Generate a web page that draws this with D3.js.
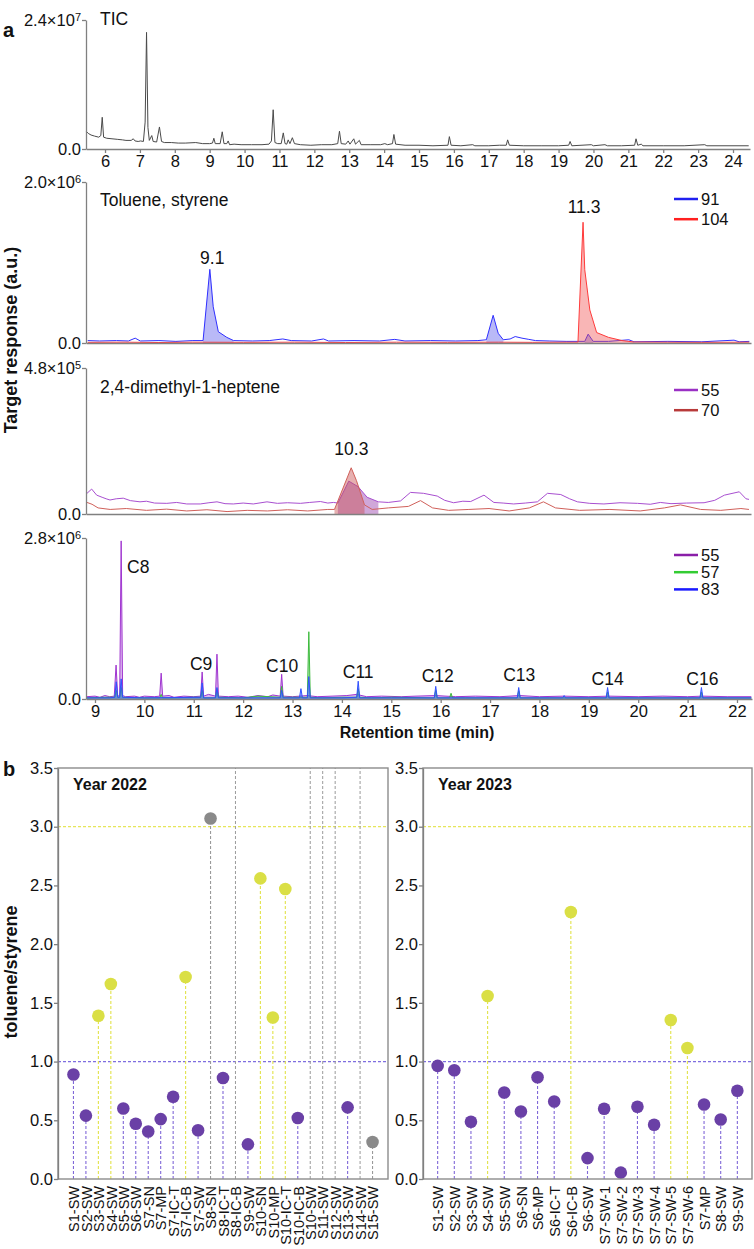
<!DOCTYPE html>
<html>
  <head>
    <meta charset="utf-8">
    <title>Toluene/styrene ratio</title>
    <script src="https://cdn.jsdelivr.net/npm/d3@7"></script>
    <style>
      body { margin: 0; background: #fff; }
      svg { display: block; font-family: "Liberation Sans", Arial, sans-serif; }
      .tick text { font-size: 16.5px; fill: #111; }
      .domain, .tick line { stroke: #808080; stroke-width: 1.3px; }
      .title { font-size: 17.5px; fill: #111; }
      .legend { font-size: 16.5px; fill: #111; }
      .bold { font-weight: bold; fill: #111; }
    </style>
  </head>
  <body>
    <svg id="chart" width="754" height="1249"></svg>
    <script>
      // ---- panel a: chromatograms [time (min), response in units of the axis exponent] ----
      ticTrace = [[5.46,0.33],[5.52,0.29],[5.6,0.26],[5.7,0.24],[5.82,0.22],[5.88,0.25],[5.92,0.59],[5.96,0.22],[6.05,0.2],[6.2,0.19],[6.35,0.18],[6.5,0.17],[6.6,0.16],[6.75,0.16],[6.81,0.19],[6.86,0.15],[6.95,0.14],[7.02,0.15],[7.1,0.14],[7.15,0.5],[7.19,2.17],[7.23,0.4],[7.27,0.16],[7.34,0.25],[7.38,0.14],[7.48,0.13],[7.56,0.41],[7.62,0.14],[7.7,0.12],[7.9,0.12],[8.1,0.11],[8.3,0.11],[8.6,0.12],[8.8,0.1],[9.0,0.1],[9.08,0.11],[9.12,0.2],[9.16,0.1],[9.3,0.1],[9.36,0.32],[9.41,0.1],[9.49,0.1],[9.53,0.15],[9.57,0.08],[9.7,0.09],[9.9,0.08],[10.2,0.08],[10.5,0.08],[10.7,0.09],[10.77,0.15],[10.82,0.73],[10.87,0.12],[10.95,0.1],[11.05,0.1],[11.11,0.3],[11.16,0.1],[11.21,0.09],[11.25,0.17],[11.3,0.1],[11.37,0.21],[11.43,0.1],[11.6,0.08],[11.9,0.07],[12.2,0.08],[12.5,0.08],[12.67,0.1],[12.72,0.33],[12.77,0.1],[12.9,0.09],[12.97,0.15],[13.02,0.09],[13.13,0.19],[13.18,0.09],[13.29,0.16],[13.34,0.08],[13.6,0.08],[13.9,0.08],[14.02,0.1],[14.1,0.08],[14.24,0.1],[14.28,0.27],[14.33,0.09],[14.6,0.07],[15.0,0.07],[15.4,0.06],[15.83,0.07],[15.87,0.23],[15.92,0.07],[16.2,0.06],[16.54,0.08],[16.6,0.06],[17.0,0.06],[17.3,0.07],[17.5,0.07],[17.54,0.17],[17.59,0.07],[18.0,0.06],[18.5,0.06],[19.0,0.06],[19.29,0.07],[19.33,0.14],[19.38,0.06],[19.94,0.08],[20.0,0.06],[20.33,0.08],[20.4,0.06],[20.8,0.06],[21.18,0.07],[21.22,0.19],[21.27,0.07],[21.37,0.09],[21.42,0.06],[22.0,0.06],[22.6,0.06],[23.19,0.08],[23.25,0.06],[24.0,0.06],[24.45,0.06]];
      toluene91 = [[8.38,0.03],[8.45,0.025],[8.55,0.03],[8.62,0.025],[8.66,0.06],[8.69,0.025],[8.8,0.03],[8.9,0.02],[9.0,0.03],[9.06,0.03],[9.1,0.915],[9.12,0.45],[9.15,0.14],[9.2,0.07],[9.24,0.03],[9.35,0.025],[9.45,0.03],[9.53,0.05],[9.58,0.03],[9.7,0.025],[9.77,0.05],[9.8,0.025],[9.95,0.03],[10.1,0.025],[10.19,0.045],[10.25,0.025],[10.4,0.03],[10.55,0.025],[10.68,0.03],[10.73,0.04],[10.77,0.344],[10.8,0.12],[10.83,0.04],[10.87,0.05],[10.9,0.08],[10.94,0.06],[10.98,0.045],[11.02,0.03],[11.1,0.025],[11.2,0.02],[11.31,0.02],[11.33,0.11],[11.36,0.02],[11.45,0.02],[11.57,0.04],[11.6,0.015],[11.8,0.02],[12.0,0.015],[12.19,0.035],[12.22,0.015],[12.28,0.02]];
      styrene104 = [[8.38,0.008],[8.6,0.01],[8.8,0.006],[9.0,0.01],[9.3,0.008],[9.6,0.01],[9.9,0.006],[10.2,0.01],[10.5,0.008],[10.8,0.01],[11.0,0.008],[11.2,0.01],[11.27,0.01],[11.3,1.5],[11.31,0.91],[11.34,0.41],[11.38,0.13],[11.45,0.07],[11.53,0.03],[11.6,0.012],[11.8,0.01],[12.0,0.008],[12.28,0.01]];
      heptene55 = [[9.005,0.68],[9.028,0.82],[9.053,0.62],[9.08,0.55],[9.1,0.5],[9.119,0.46],[9.15,0.5],[9.185,0.52],[9.22,0.44],[9.268,0.4],[9.3,0.42],[9.34,0.36],[9.401,0.35],[9.45,0.38],[9.5,0.33],[9.567,0.33],[9.61,0.37],[9.65,0.4],[9.69,0.34],[9.731,0.33],[9.78,0.36],[9.83,0.33],[9.898,0.4],[9.95,0.35],[10.0,0.37],[10.064,0.35],[10.11,0.38],[10.163,0.41],[10.2,0.36],[10.228,0.38],[10.25,0.36],[10.304,1.08],[10.35,0.9],[10.395,0.55],[10.451,0.4],[10.5,0.38],[10.561,0.43],[10.61,0.71],[10.675,0.68],[10.743,0.59],[10.78,0.45],[10.824,0.37],[10.87,0.42],[10.909,0.41],[10.975,0.62],[11.024,0.38],[11.07,0.36],[11.122,0.33],[11.18,0.36],[11.24,0.4],[11.29,0.68],[11.356,0.64],[11.4,0.5],[11.439,0.4],[11.5,0.35],[11.57,0.33],[11.65,0.37],[11.737,0.35],[11.8,0.32],[11.85,0.38],[11.903,0.34],[11.98,0.36],[12.067,0.37],[12.12,0.45],[12.168,0.62],[12.242,0.73],[12.275,0.5],[12.29,0.48]];
      heptene70 = [[9.005,0.38],[9.03,0.32],[9.06,0.2],[9.12,0.15],[9.2,0.18],[9.3,0.12],[9.4,0.16],[9.5,0.1],[9.6,0.14],[9.7,0.08],[9.8,0.12],[9.9,0.1],[10.0,0.14],[10.1,0.1],[10.2,0.15],[10.233,0.15],[10.316,1.52],[10.342,1.1],[10.382,0.3],[10.42,0.15],[10.5,0.2],[10.6,0.25],[10.66,0.44],[10.72,0.2],[10.8,0.12],[10.9,0.15],[11.0,0.18],[11.1,0.1],[11.2,0.2],[11.27,0.4],[11.33,0.2],[11.45,0.12],[11.6,0.15],[11.75,0.1],[11.87,0.2],[11.95,0.3],[12.05,0.15],[12.15,0.12],[12.25,0.18],[12.29,0.15]];
      alkane55 = [[8.83,0.04],[9.0,0.05],[9.1,0.03],[9.2,0.06],[9.3,0.04],[9.39,0.05],[9.427,0.59],[9.46,0.05],[9.5,0.06],[9.53,2.75],[9.56,0.06],[9.62,0.04],[9.8,0.05],[9.9,0.03],[10.0,0.05],[10.2,0.04],[10.31,0.05],[10.34,0.45],[10.37,0.05],[10.5,0.06],[10.6,0.03],[10.8,0.05],[11.0,0.04],[11.14,0.05],[11.17,0.47],[11.2,0.05],[11.3,0.08],[11.44,0.05],[11.47,0.78],[11.5,0.05],[11.7,0.04],[11.9,0.05],[12.1,0.03],[12.3,0.06],[12.5,0.04],[12.6,0.07],[12.75,0.05],[12.78,0.43],[12.81,0.05],[13.0,0.04],[13.3,0.06],[13.5,0.04],[13.8,0.05],[14.1,0.06],[14.3,0.08],[14.5,0.04],[14.8,0.05],[15.2,0.04],[15.5,0.05],[15.9,0.06],[16.3,0.04],[16.7,0.05],[17.2,0.04],[17.6,0.06],[18.0,0.04],[18.5,0.05],[19.0,0.04],[19.4,0.05],[20.0,0.04],[20.5,0.05],[21.0,0.04],[21.3,0.05],[21.8,0.04],[22.29,0.04]];
      alkane57 = [[8.83,0.02],[9.2,0.03],[9.4,0.03],[9.43,0.15],[9.46,0.03],[9.5,0.03],[9.53,0.2],[9.56,0.03],[10.0,0.02],[10.31,0.02],[10.34,0.08],[10.37,0.02],[10.5,0.02],[11.0,0.03],[11.14,0.03],[11.17,0.15],[11.2,0.02],[11.44,0.02],[11.47,0.18],[11.5,0.03],[12.0,0.02],[12.3,0.05],[12.75,0.03],[12.78,0.22],[12.81,0.03],[13.2,0.03],[13.3,0.03],[13.33,1.17],[13.36,0.03],[13.6,0.02],[14.0,0.03],[14.3,0.03],[14.33,0.18],[14.36,0.03],[14.6,0.02],[15.0,0.03],[15.87,0.02],[15.9,0.15],[15.93,0.02],[16.18,0.02],[16.21,0.1],[16.24,0.02],[17.0,0.02],[17.55,0.02],[17.58,0.14],[17.61,0.02],[18.5,0.02],[19.35,0.02],[19.38,0.12],[19.41,0.02],[20.0,0.02],[21.25,0.02],[21.28,0.12],[21.31,0.02],[21.5,0.02],[22.29,0.02]];
      alkane83 = [[8.83,0.02],[9.3,0.02],[9.4,0.03],[9.43,0.3],[9.46,0.03],[9.5,0.03],[9.53,0.35],[9.56,0.03],[10.0,0.02],[11.14,0.03],[11.17,0.28],[11.2,0.02],[11.44,0.02],[11.47,0.2],[11.5,0.02],[12.0,0.02],[12.75,0.02],[12.78,0.15],[12.81,0.02],[13.14,0.02],[13.17,0.18],[13.2,0.02],[13.3,0.02],[13.33,0.39],[13.36,0.02],[14.0,0.02],[14.3,0.03],[14.33,0.31],[14.36,0.02],[15.0,0.02],[15.87,0.02],[15.9,0.22],[15.93,0.02],[16.5,0.02],[17.55,0.02],[17.58,0.2],[17.61,0.02],[18.2,0.02],[18.47,0.02],[18.5,0.06],[18.53,0.02],[19.35,0.02],[19.38,0.2],[19.41,0.02],[20.5,0.02],[21.25,0.02],[21.28,0.2],[21.31,0.02],[22.29,0.02]];
      // peak annotations [text, time, response]
      tolueneNotes = [["9.1", 9.114, 0.98], ["11.3", 11.306, 1.62]];
      hepteneNotes = [["10.3", 10.317, 1.94]];
      alkaneNotes = [["C9", 11.15, 0.5], ["C10", 12.79, 0.475], ["C11", 14.33, 0.365], ["C12", 15.94, 0.3], ["C13", 17.59, 0.31], ["C14", 19.38, 0.24], ["C16", 21.3, 0.24]];

      // ---- panel b: toluene/styrene ratios (null = not determined) ----
      samples2022 = ["S1-SW","S2-SW","S3-SW","S4-SW","S5-SW","S6-SW","S7-SN","S7-MP","S7-IC-T","S7-IC-B","S7-SW","S8-SN","S8-IC-T","S8-IC-B","S9-SW","S10-SN","S10-MP","S10-IC-T","S10-IC-B","S10-SW","S11-SW","S12-SW","S13-SW","S14-SW","S15-SW"];
      ratio2022 = [0.89, 0.54, 1.39, 1.66, 0.6, 0.47, 0.405, 0.51, 0.7, 1.72, 0.415, 3.07, 0.86, null, 0.295, 2.56, 1.375, 2.47, 0.52, null, null, null, 0.61, null, 0.315];
      grey2022 = ["S8-SN", "S15-SW"];
      samples2023 = ["S1-SW","S2-SW","S3-SW","S4-SW","S5-SW","S6-SN","S6-MP","S6-IC-T","S6-IC-B","S6-SW","S7-SW-1","S7-SW-2","S7-SW-3","S7-SW-4","S7-SW-5","S7-SW-6","S7-MP","S8-SW","S9-SW"];
      ratio2023 = [0.963, 0.926, 0.487, 1.558, 0.737, 0.575, 0.867, 0.66, 2.274, 0.178, 0.598, 0.054, 0.615, 0.462, 1.354, 1.116, 0.635, 0.507, 0.751];
      grey2023 = [];
      ratioTicks = [0, 0.5, 1, 1.5, 2, 2.5, 3, 3.5];
      thresholds = [1, 3];

      svg = d3.select("#chart");
      left = 86;

      // panel a layout
      panelsA = [
        { top: 20, bottom: 149, right: 750, x: [5.455, 24.487], yMax: 2.4, mant: "2.4", exp: "7", title: "TIC", titleY: 25, ticks: d3.range(6, 25),
          series: [{ data: ticTrace, line: "#4a4a4a" }] },
        { top: 182, bottom: 343, right: 751, x: [8.37, 12.29], yMax: 2.0, mant: "2.0", exp: "6", title: "Toluene, styrene", titleY: 206, legendY: 199, notes: tolueneNotes,
          series: [
            { data: toluene91, name: "91", line: "#2f2fff", key: "#2020f0", fill: "rgba(70,70,235,0.38)", ranges: [[9.05, 9.25], [10.72, 10.84], [11.3, 11.37]] },
            { data: styrene104, name: "104", line: "#ff3b3b", key: "#ff2020", fill: "rgba(240,80,80,0.42)", ranges: [[11.26, 11.62]] }] },
        { top: 368, bottom: 514, right: 751, x: [9.0, 12.3], yMax: 4.8, mant: "4.8", exp: "5", title: "2,4-dimethyl-1-heptene", titleY: 393, legendY: 390, notes: hepteneNotes,
          series: [
            { data: heptene55, name: "55", line: "#a84fd0", key: "#9a30c4", fill: "rgba(150,60,170,0.45)", ranges: [[10.24, 10.46]] },
            { data: heptene70, name: "70", line: "#d0605a", key: "#b83a3a", fill: "rgba(200,80,80,0.45)", ranges: [[10.23, 10.39]] }] },
        { top: 538, bottom: 699, right: 752, x: [8.818, 22.304], yMax: 2.8, mant: "2.8", exp: "6", legendY: 555, notes: alkaneNotes, ticks: d3.range(9, 23),
          series: [
            { data: alkane55, name: "55", line: "#a035d0", key: "#8a1fa8", fill: "rgba(170,80,215,0.4)", ranges: [[8.8, 22.3]] },
            { data: alkane57, name: "57", line: "#3dbb3d", key: "#33cc33", fill: "rgba(60,190,60,0.4)", ranges: [[8.8, 22.3]] },
            { data: alkane83, name: "83", line: "#3050ff", key: "#1a1aff", fill: "rgba(40,90,255,0.45)", ranges: [[8.8, 22.3]] }] }
      ];

      panelsA.forEach(function(p) {
        x = d3.scaleLinear().domain(p.x).range([left, p.right]);
        y = d3.scaleLinear().domain([0, p.yMax]).range([p.bottom, p.top]);
        g = svg.append("g");
        area = d3.area().x(function(d) { return x(d[0]); }).y0(y(0)).y1(function(d) { return y(d[1]); });
        line = d3.line().x(function(d) { return x(d[0]); }).y(function(d) { return y(d[1]); });
        p.series.forEach(function(s) {
          (s.ranges || []).forEach(function(r) {
            g.append("path")
              .datum(s.data.filter(function(d) { return d[0] >= r[0] && d[0] <= r[1]; }))
              .attr("fill", s.fill)
              .attr("d", area);
          });
          g.append("path")
            .datum(s.data)
            .attr("fill", "none")
            .attr("stroke", s.line)
            .attr("stroke-width", 1)
            .attr("d", line);
        });
        // axes
        yAxisGroup = g.append("g")
          .attr("transform", "translate(" + left + ",0)")
          .call(d3.axisLeft(y).tickValues([0, p.yMax]).tickSize(4).tickPadding(1).tickSizeOuter(0));
        yAxisGroup.selectAll(".tick text").each(function(d) {
          t = d3.select(this).text("");
          if (d === 0) { t.text("0.0"); return; }
          t.append("tspan").text(p.mant + "×10");
          t.append("tspan").attr("dy", "-0.45em").style("font-size", "11px").text(p.exp);
        });
        xAxisGroup = g.append("g")
          .attr("transform", "translate(0," + p.bottom + ")")
          .call(d3.axisBottom(x).tickValues(p.ticks || []).tickSize(4).tickPadding(2).tickSizeOuter(0).tickFormat(d3.format("d")));
        if (p.title) {
          g.append("text").attr("class", "title").attr("x", 100).attr("y", p.titleY).text(p.title);
        }
        // legend
        if (p.legendY) {
          p.series.forEach(function(s, i) {
            ly = p.legendY + i * 17.2 + (p.series.length > 2 ? 0 : i * 3);
            g.append("line").attr("x1", 674).attr("x2", 698).attr("y1", ly).attr("y2", ly)
              .attr("stroke", s.key).attr("stroke-width", 2.5);
            g.append("text").attr("class", "legend").attr("x", 701).attr("y", ly + 6).text(s.name);
          });
        }
        (p.notes || []).forEach(function(n) {
          g.append("text").attr("class", "title").attr("text-anchor", "middle")
            .attr("x", x(n[1])).attr("y", y(n[2])).text(n[0]);
        });
        if (p.ticks && p.top > 500) {
          g.append("text").attr("class", "title").attr("x", x(9.65)).attr("y", y(2.19)).text("C8");
        }
      });

      svg.append("text").attr("class", "bold").style("font-size", "16px")
        .attr("x", 417).attr("y", 738).attr("text-anchor", "middle").text("Retention time (min)");
      svg.append("text").attr("class", "bold").style("font-size", "18px")
        .attr("transform", "translate(17,340) rotate(-90)").attr("text-anchor", "middle").text("Target response (a.u.)");
      svg.append("text").attr("class", "bold").style("font-size", "20px").attr("x", 3).attr("y", 37).text("a");
      svg.append("text").attr("class", "bold").style("font-size", "20px").attr("x", 3).attr("y", 776).text("b");

      // ---- panel b ----
      yR = d3.scaleLinear().domain([0, 3.5]).range([1179, 768]);
      colours = { purple: "#6a40a6", yellow: "#dadf45", grey: "#8a8a8a" };
      stems = { purple: "#8068d8", yellow: "#e2e34a", grey: "#9a9a9a" };
      yearPanels = [
        { x0: 58, x1: 388, pad: 1.24, samples: samples2022, values: ratio2022, grey: grey2022, title: "Year 2022" },
        { x0: 423, x1: 752, pad: 0.88, samples: samples2023, values: ratio2023, grey: grey2023, title: "Year 2023" }
      ];
      yearPanels.forEach(function(p) {
        xR = d3.scalePoint().domain(p.samples).range([p.x0, p.x1]).padding(p.pad);
        g = svg.append("g");
        rows = p.samples.map(function(s, i) {
          v = p.values[i];
          kind = p.grey.indexOf(s) >= 0 ? "grey" : (v >= 1 ? "yellow" : "purple");
          return { sample: s, value: v, kind: kind };
        });
        // threshold lines
        g.selectAll(".threshold")
          .data(thresholds)
          .enter().append("line")
            .attr("x1", p.x0).attr("x2", p.x1)
            .attr("y1", function(d) { return yR(d); }).attr("y2", function(d) { return yR(d); })
            .attr("stroke", function(d) { return d === 1 ? "#7f6ee0" : "#e6e65a"; })
            .attr("stroke-width", 1.2)
            .attr("stroke-dasharray", "3,2");
        // missing samples
        g.selectAll(".missing")
          .data(rows.filter(function(d) { return d.value === null; }))
          .enter().append("line")
            .attr("x1", function(d) { return xR(d.sample); }).attr("x2", function(d) { return xR(d.sample); })
            .attr("y1", yR(0)).attr("y2", yR(3.5))
            .attr("stroke", "#9a9a9a").attr("stroke-width", 1).attr("stroke-dasharray", "3,2");
        present = rows.filter(function(d) { return d.value !== null; });
        g.selectAll(".stem")
          .data(present)
          .enter().append("line")
            .attr("x1", function(d) { return xR(d.sample); }).attr("x2", function(d) { return xR(d.sample); })
            .attr("y1", yR(0)).attr("y2", function(d) { return yR(d.value); })
            .attr("stroke", function(d) { return stems[d.kind]; })
            .attr("stroke-width", 1.1).attr("stroke-dasharray", "3,2");
        g.selectAll(".dot")
          .data(present)
          .enter().append("circle")
            .attr("cx", function(d) { return xR(d.sample); })
            .attr("cy", function(d) { return yR(d.value); })
            .attr("r", 6.3)
            .attr("fill", function(d) { return colours[d.kind]; });
        // frame and axes
        g.append("rect")
          .attr("x", p.x0).attr("y", yR(3.5)).attr("width", p.x1 - p.x0).attr("height", yR(0) - yR(3.5))
          .attr("fill", "none").attr("stroke", "#8c8c8c").attr("stroke-width", 1.4);
        g.append("g")
          .attr("transform", "translate(" + p.x0 + ",0)")
          .call(d3.axisLeft(yR).tickValues(ratioTicks).tickFormat(d3.format(".1f")).tickSize(4).tickPadding(1).tickSizeOuter(0));
        xg = g.append("g")
          .attr("transform", "translate(0," + yR(0) + ")")
          .call(d3.axisBottom(xR).tickSize(0).tickSizeOuter(0));
        xg.select(".domain").remove();
        xg.selectAll(".tick text")
          .style("font-size", "14.5px")
          .attr("transform", "rotate(-90)")
          .attr("text-anchor", "end")
          .attr("x", -7).attr("y", 0).attr("dy", "0.36em");
        g.append("text").attr("class", "bold").style("font-size", "16px")
          .attr("x", p.x0 + 15).attr("y", 790).text(p.title);
      });
      svg.append("text").attr("class", "bold").style("font-size", "18px")
        .attr("transform", "translate(17,972) rotate(-90)").attr("text-anchor", "middle").text("toluene/styrene");
    </script>
  </body>
</html>
